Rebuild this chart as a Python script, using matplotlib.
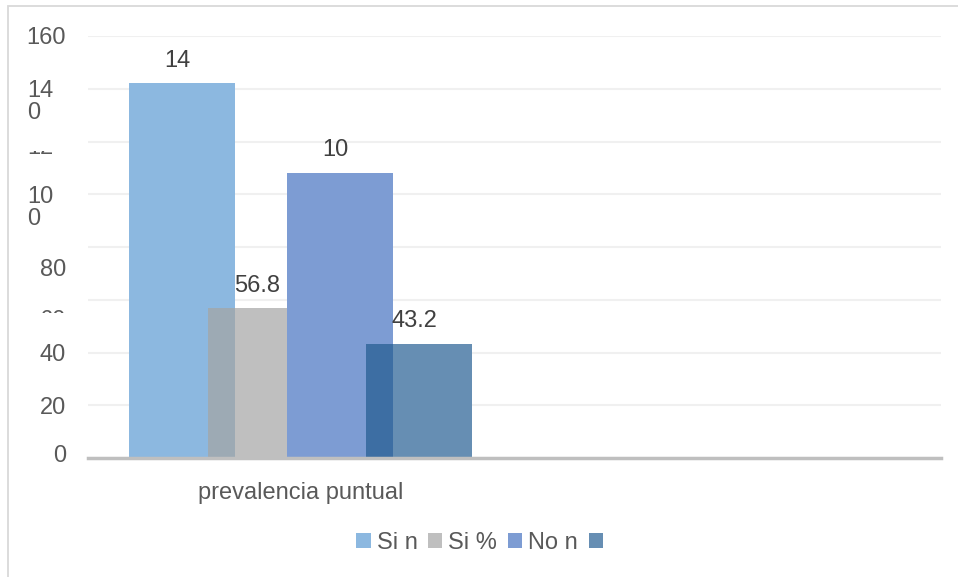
import matplotlib
matplotlib.use('Agg')
import matplotlib.pyplot as plt
from matplotlib.patches import Rectangle
from matplotlib.transforms import Bbox, blended_transform_factory

plt.rcParams['font.family'] = ['Liberation Sans', 'DejaVu Sans']

# one category, four series (counts and percentages side by side)
category = 'prevalencia puntual'
series_names = ['Si n', 'Si %', 'No n', ' ']
series_values = [142, 56.8, 108, 43.2]
value_labels = ['14', '56.8', '10', '43.2']
colors = ['#8CB8E0', '#BFBFBF', '#7D9CD3', '#668EB3']
overlap_colors = ['#9DAAB4', '#3D6EA3']

ytick_values = [0, 20, 40, 60, 80, 100, 120, 140, 160]
ytick_labels = ['0', '20', '40', '60', '80', '10\n0', '12', '14\n0', '160']
clipped_ticks = [60, 120]   # labels squeezed out by the axis, only a sliver left

W, H = 958, 577
fig = plt.figure(figsize=(W / 100, H / 100), dpi=100)
ax = fig.add_axes([88 / W, (H - 458) / H, 853 / W, 422 / H])

# chart frame
fig.add_artist(Rectangle((8 / W, -0.1), 1.2, 1.1 - 6 / H, transform=fig.transFigure,
                         fill=False, edgecolor='#D9D9D9', linewidth=1.3))

step, width = 1.0, 1.34
bars = []
for i, (v, c) in enumerate(zip(series_values, colors)):
    rect = ax.bar(i * step, v, width=width, color=c, linewidth=0, zorder=2 + i)[0]
    bars.append(rect)

# overlapping areas between neighbouring count/percent bars
for k, (a, b) in enumerate([(0, 1), (2, 3)]):
    ra, rb = bars[a], bars[b]
    x0 = rb.get_x()
    x1 = ra.get_x() + ra.get_width()
    h = min(ra.get_height(), rb.get_height())
    ax.add_patch(Rectangle((x0, 0), x1 - x0, h, color=overlap_colors[k],
                           linewidth=0, zorder=2 + b))

for rect, lab in zip(bars, value_labels):
    ax.annotate(lab, (rect.get_x() + rect.get_width() / 2, rect.get_height()),
                xytext=(-3, 12), textcoords='offset points', ha='center',
                va='baseline', fontsize=17, color='#404040', zorder=10)

ax.set_xlim(-1.19, 9.61)
ax.set_ylim(0, 160)
ax.set_yticks(ytick_values)
ax.set_yticklabels([])
ax.set_xticks([1.5])
ax.set_xticklabels([category], fontsize=17, color='#595959')
ax.tick_params(length=0, axis='both')
ax.tick_params(axis='x', pad=17)
ax.grid(axis='y', color='#F0F0F0', linewidth=1.5, zorder=0)
ax.set_axisbelow(True)
for s in ['top', 'right', 'left']:
    ax.spines[s].set_visible(False)
ax.spines['bottom'].set_color('#BFBFBF')
ax.spines['bottom'].set_linewidth(2.5)
ax.spines['bottom'].set_zorder(20)

# y tick labels drawn by hand: some wrap onto a second line, some are cut off,
# a couple sit a little off their gridline
trans = blended_transform_factory(fig.transFigure, ax.transData)
px = 72 / 100              # pixels -> points
line_gap = 22 * px
label_shift = {0: 5, 80: -21}   # pixel nudges (positive = up)
for v, lab in zip(ytick_values, ytick_labels):
    if v in clipped_ticks:
        continue
    dy = label_shift.get(v, 0) * px
    lines = lab.split('\n')
    multi = len(lines) > 1
    for j, part in enumerate(lines):
        ax.annotate(part, (27 / W if multi else 66 / W, v), xycoords=trans,
                    xytext=(0, dy - j * line_gap), textcoords='offset points',
                    ha='left' if multi else 'right', va='center_baseline',
                    fontsize=17, color='#595959', annotation_clip=False)

# (x, ha, va, anchor row, visible rows)
slivers = {60: (66, 'right', 'top', 310, (310, 313)),
           120: (27, 'left', 'baseline', 154, (151, 154))}
for v, lab in zip(ytick_values, ytick_labels):
    if v not in clipped_ticks:
        continue
    x, ha, va, row, (r0, r1) = slivers[v]
    t = fig.text(x / W, 1 - row / H, lab, ha=ha, va=va, fontsize=17, color='#595959')
    t.set_clip_box(Bbox([[0, H - r1], [W, H - r0]]))
    t.set_clip_on(True)

handles = [Rectangle((0, 0), 1, 1, color=c, linewidth=0) for c in colors]
fig.legend(handles, series_names, loc='center', bbox_to_anchor=(486 / W, 1 - 543 / H),
           ncol=4, frameon=False, fontsize=17, labelcolor='#595959',
           handlelength=0.6, handleheight=0.6, handletextpad=0.26,
           columnspacing=0.45, borderaxespad=0, borderpad=0)

fig.savefig('out.png', dpi=100)
